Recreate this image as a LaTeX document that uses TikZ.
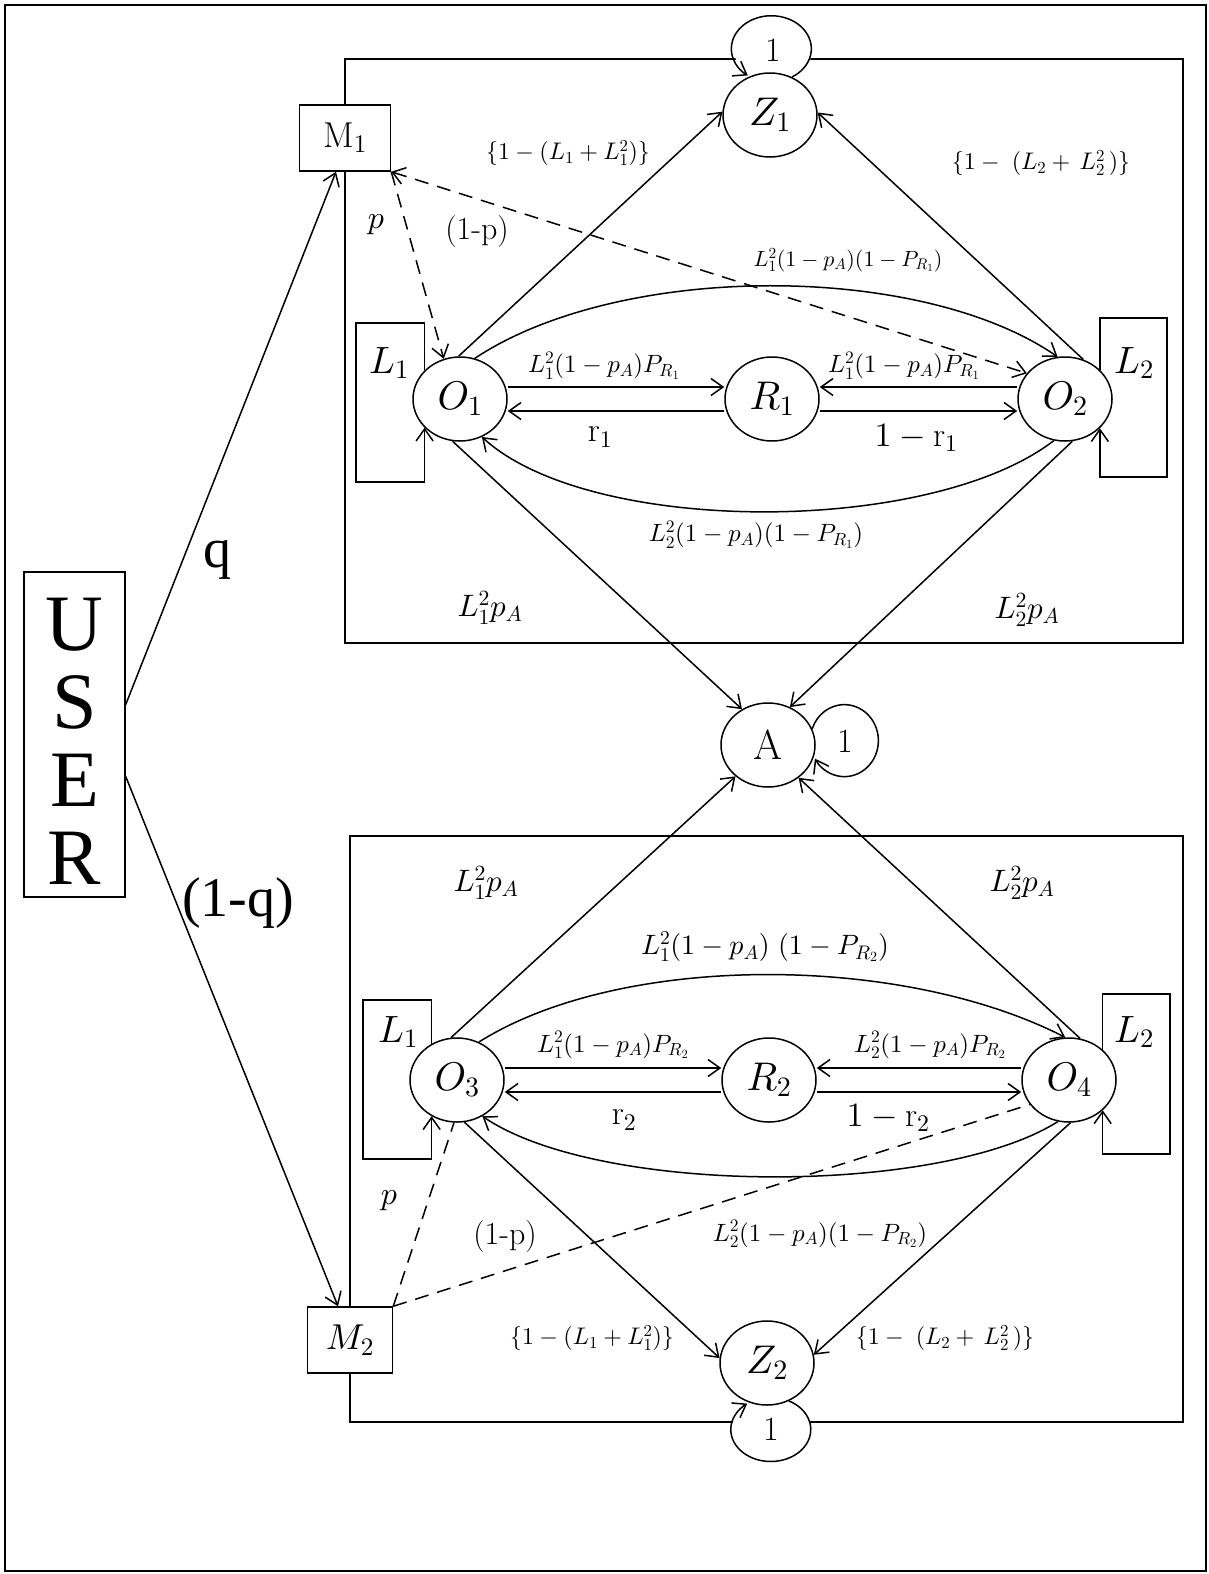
\documentclass[tikz,border=0pt]{standalone}
\DeclareFontShape{OML}{cmm}{m}{it}{<->cmmi10}{}
\DeclareFontShape{OMS}{cmsy}{m}{n}{<->cmsy10}{}
\DeclareFontShape{OT1}{cmr}{m}{n}{<->cmr10}{}
\DeclareFontShape{OMX}{cmex}{m}{n}{<->cmex10}{}
\usepackage{fontspec}
\newfontfamily\timesf{Liberation Serif}
\usetikzlibrary{arrows.meta,shapes.geometric}
\tikzset{
 arr/.style={-{Straight Barb[length=12pt,width=17pt]}},
 arrb/.style={{Straight Barb[length=12pt,width=17pt]}-{Straight Barb[length=12pt,width=17pt]}},
 dsh/.style={dash pattern=on 14pt off 9pt},
 st/.style={draw, ellipse, minimum width=94pt, minimum height=84pt, inner sep=0pt, fill=white, font=\fontsize{40}{44}\selectfont},
 mbox/.style={draw, rectangle, fill=white, inner sep=0pt, minimum height=66pt, font=\fontsize{36}{40}\selectfont},
 lpfill/.style={ellipse, fill=white, inner sep=0pt, font=\fontsize{34}{38}\selectfont},
 lsm/.style={inner sep=0pt, font=\fontsize{24}{28}\selectfont},
 lsmb/.style={inner sep=0pt, font=\fontsize{22}{26}\selectfont},
 lmd/.style={inner sep=0pt, font=\fontsize{25}{28}\selectfont},
 lbg/.style={inner sep=0pt, font=\fontsize{31}{34}\selectfont},
 lst/.style={inner sep=0pt, font=\fontsize{38}{42}\selectfont},
 rlab/.style={inner sep=0pt, font=\fontsize{34}{38}\selectfont},
 plab/.style={inner sep=0pt, font=\fontsize{32}{36}\selectfont},
 tlab/.style={inner sep=0pt, font=\timesf\fontsize{56}{60}\selectfont},
}
\begin{document}
\begin{tikzpicture}[x=1pt,y=1pt,line width=1.5pt]
\useasboundingbox (0,0) rectangle (1209,-1574);
\draw[line width=2pt] (5,-5) rectangle (1206,-1571);
% section boxes
\draw (345,-59) rectangle (1183,-643);
\draw (350,-836) rectangle (1183,-1422);

% USER
\node[draw, minimum width=101pt, minimum height=325pt, inner sep=0pt] (user) at (74.5,-734.5) {};
\node[align=center, inner sep=0pt, font=\timesf\fontsize{80}{78}\selectfont] (usertxt) at (74.5,-741) {U\\S\\E\\R};

% M boxes
\node[mbox, minimum width=91pt] (M1) at (345,-138) {$\mathrm{M}_1$};
\node[mbox, minimum width=85pt] (M2) at (350,-1340) {$M_2$};

% loop fills with labels
\node[lpfill, minimum width=78pt, minimum height=62pt] (z1one) at (773,-50) {1};
\node[lpfill, minimum width=78pt, minimum height=62pt] (z2one) at (771,-1429) {1};

% states
\node[st] (Z1) at (770,-115) {$Z_1$};
\node[st] (O1) at (460,-399) {$O_1$};
\node[st] (R1) at (772,-399) {$R_1$};
\node[st] (O2) at (1065,-399) {$O_2$};
\node[st, font=\fontsize{42}{46}\selectfont] (A) at (768,-745) {A};
\node[st] (O3) at (457,-1080) {$O_3$};
\node[st] (R2) at (769,-1080) {$R_2$};
\node[st] (O4) at (1069,-1080) {$O_4$};
\node[st] (Z2) at (767,-1363) {$Z_2$};

% self loops
\draw[arr] (Z1.60) arc[start angle=-59, end angle=234, x radius=40, y radius=33];
\draw[arr] (Z2.-60) arc[start angle=63, end angle=-234, x radius=40, y radius=32];
\node[inner sep=0pt, font=\fontsize{34}{38}\selectfont] (aone) at (845,-741) {1};
\draw[arr] (A.20) arc[start angle=161, end angle=-150, x radius=34, y radius=36];

% L loops
\coordinate (l1a) at (356,-323); \coordinate (l1b) at (356,-482);
\coordinate (l2a) at (1167,-318); \coordinate (l2b) at (1167,-477);
\coordinate (l3a) at (363,-1000); \coordinate (l3b) at (363,-1159);
\coordinate (l4a) at (1170,-994); \coordinate (l4b) at (1170,-1154);
\draw[arr] (O1.141) |- (l1a) |- (O1.219 |- l1b) -- (O1.219);
\draw[arr] (O2.40) |- (l2a) |- (O2.-40 |- l2b) -- (O2.-40);
\draw[arr] (O3.125) |- (l3a) |- (O3.235 |- l3b) -- (O3.235);
\draw[arr] (O4.42) |- (l4a) |- (O4.-42 |- l4b) -- (O4.-42);
\node[lst] (L1t) at (389,-363) {$L_1$};
\node[lst] (L2t) at (1134,-363) {$L_2$};
\node[lst] (L1b) at (398,-1032) {$L_1$};
\node[lst] (L2b) at (1134,-1032) {$L_2$};

% O-R arrows top
\draw[arr] ([yshift=12pt]O1.east) -- ([yshift=12pt]R1.west);
\draw[arr] ([yshift=-12pt]R1.west) -- ([yshift=-12pt]O1.east);
\draw[arr] ([yshift=12pt]O2.west) -- ([yshift=12pt]R1.east);
\draw[arr] ([yshift=-12pt]R1.east) -- ([yshift=-12pt]O2.west);
% O-R arrows bottom
\draw[arr] ([yshift=12pt]O3.east) -- ([yshift=12pt]R2.west);
\draw[arr] ([yshift=-12pt]R2.west) -- ([yshift=-12pt]O3.east);
\draw[arr] ([yshift=12pt]O4.west) -- ([yshift=12pt]R2.east);
\draw[arr] ([yshift=-12pt]R2.east) -- ([yshift=-12pt]O4.west);

% arcs
\draw[arr] (O1.70) .. controls (620,-262) and (920,-262) .. (O2.100);
\draw[arr] (O2.-105) .. controls (930,-536) and (590,-536) .. (O1.-60);
\draw[arr] (O3.60) .. controls (620,-953) and (900,-953) .. (O4.95);
\draw[arr] (O4.-105) .. controls (940,-1196) and (600,-1196) .. (O3.-55);

% straight connectors
\draw[arr] (O1.92) -- (Z1.176);
\draw[arr] (O2.65) -- (Z1.3);
\draw[arr] (O1.-100) -- (A.126);
\draw[arr] (O2.-80) -- (A.60);
\draw[arr] (O3.98) -- (A.-136);
\draw[arr] (O4.75) -- (A.-47);
\draw[arr] (O3.-80) -- (Z2.174);
\draw[arr] (O4.-88) -- (Z2.10);

% dashed
\draw[dsh,arr] (M1.south east) -- (O1.112);
\draw[dsh,arrb] (M1.south east) -- (O2.146);
\draw[dsh] (M2.north east) -- (O3.-94);
\draw[dsh] (M2.north east) -- (O4.-148);

% user arrows
\draw[arr] ([yshift=30pt]user.east) -- ([xshift=-9pt]M1.south);
\draw[arr] ([yshift=-42pt]user.east) -- ([xshift=-12pt]M2.north);
\node[tlab] (q) at (217,-560) {q};
\node[tlab] (oneq) at (238,-903) {(1-q)};

% labels top
\node[lsm] (t1) at (568,-153) {$\{1-(L_1+L_1^2)\}$};
\node[lsm] (t2) at (1041,-163) {$\{1-\;(L_2+\,L_2^2\,)\}$};
\node[plab] (tp) at (376,-225) {$p$};
\node[plab] (t1p) at (477,-232) {(1-p)};
\node[lsmb] (t3) at (848,-260) {$L_1^2(1-p_A)(1-P_{R_1})$};
\node[lmd] (t4) at (604,-366) {$L_1^2(1-p_A)P_{R_1}$};
\node[lmd] (t5) at (904,-366) {$L_1^2(1-p_A)P_{R_1}$};
\node[rlab] (t6) at (600,-437) {$\mathrm{r}_1$};
\node[rlab] (t7) at (916,-438) {$1-\mathrm{r}_1$};
\node[lmd] (t8) at (756,-535) {$L_2^2(1-p_A)(1-P_{R_1})$};
\node[lbg] (t9) at (490,-608) {$L_1^2p_A$};
\node[lbg] (t10) at (1027,-610) {$L_2^2p_A$};

% labels bottom
\node[lbg] (b1) at (486,-883) {$L_1^2p_A$};
\node[lbg] (b2) at (1022,-883) {$L_2^2p_A$};
\node[inner sep=0pt, font=\fontsize{28}{32}\selectfont] (b3) at (765,-947) {$L_1^2(1-p_A)\ (1-P_{R_2})$};
\node[lmd] (b4) at (613,-1045) {$L_1^2(1-p_A)P_{R_2}$};
\node[lmd] (b5) at (930,-1045) {$L_2^2(1-p_A)P_{R_2}$};
\node[rlab] (b6) at (624,-1120) {$\mathrm{r}_2$};
\node[rlab] (b7) at (888,-1118) {$1-\mathrm{r}_2$};
\node[lmd] (b8) at (820,-1234) {$L_2^2(1-p_A)(1-P_{R_2})$};
\node[plab] (bp) at (389,-1201) {$p$};
\node[plab] (b1p) at (505,-1237) {(1-p)};
\node[lsm] (b9) at (592,-1338) {$\{1-(L_1+L_1^2)\}$};
\node[lsm] (b10) at (945,-1338) {$\{1-\;(L_2+\,L_2^2\,)\}$};
\end{tikzpicture}
\end{document}
